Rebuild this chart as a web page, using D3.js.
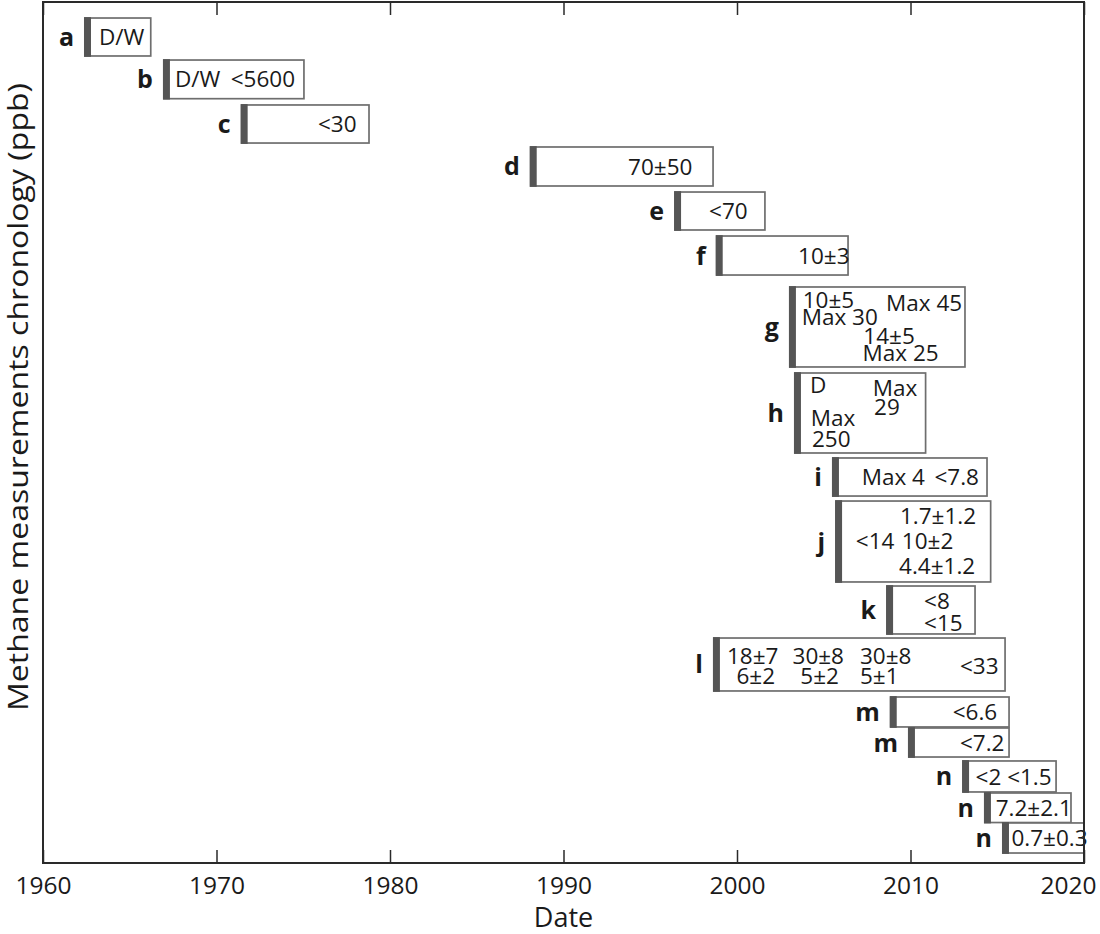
<!DOCTYPE html>
<html><head><meta charset="utf-8">
<script src="https://cdn.jsdelivr.net/npm/d3@7"></script>
<style>
html,body{margin:0;padding:0;background:#fff;}
svg{display:block;}
</style></head>
<body>
<svg id="chart" width="1100" height="934"></svg>
<script>
// ---- data ----
const rowLabels  = ["a","b","c","d","e","f","g","h","i","j","k","l","m","m","n","n","n"];
const startYears = [1962.42,1966.97,1971.45,1988.11,1996.43,1998.83,2003.05,2003.34,2005.53,2005.71,2008.65,1998.67,2008.86,2009.91,2013.03,2014.29,2015.33];
const endYears   = [1966.21,1975.04,1978.79,1998.62,2001.61,2006.40,2013.14,2010.87,2014.41,2014.62,2013.72,2015.45,2015.68,2015.68,2018.39,2019.25,2020.00];
// chronology position (0 = top, 100 = bottom of the axis)
const rowTop     = [1.86,6.74,11.96,16.84,22.07,27.18,33.10,43.09,52.96,57.96,67.83,73.87,80.72,84.32,88.15,91.87,95.35];
const rowBottom  = [6.27,11.23,16.38,21.37,26.48,31.71,42.39,52.38,57.38,67.36,73.40,80.02,84.20,87.69,91.75,95.30,98.84];
// measurement annotations: [row index, text, year where text starts, relative position in box]
const measurements = [
  [0,"D/W",1963.23,0.5],
  [1,"D/W",1967.61,0.5],[1,"<5600",1970.82,0.5],
  [2,"<30",1975.85,0.5],
  [3,"70±50",1993.72,0.5],
  [4,"<70",1998.39,0.5],
  [5,"10±3",2003.52,0.5],
  [6,"10±5",2003.79,0.16],[6,"Max 45",2008.59,0.20],[6,"Max 30",2003.73,0.37],[6,"14±5",2007.28,0.61],[6,"Max 25",2007.24,0.83],
  [7,"D",2004.21,0.15],[7,"Max",2007.82,0.18],[7,"29",2007.90,0.42],[7,"Max",2004.25,0.56],[7,"250",2004.32,0.82],
  [8,"Max 4",2007.19,0.5],[8,"<7.8",2011.38,0.5],
  [9,"1.7±1.2",2009.39,0.18],[9,"<14",2006.85,0.49],[9,"10±2",2009.50,0.49],[9,"4.4±1.2",2009.34,0.80],
  [10,"<8",2010.78,0.30],[10,"<15",2010.78,0.76],
  [11,"18±7",1999.42,0.33],[11,"30±8",2003.20,0.33],[11,"30±8",2007.09,0.33],
  [11,"6±2",1999.97,0.72],[11,"5±2",2003.65,0.72],[11,"5±1",2007.09,0.72],[11,"<33",2012.85,0.53],
  [12,"<6.6",2012.43,0.5],
  [13,"<7.2",2012.85,0.5],
  [14,"<2 <1.5",2013.75,0.5],
  [15,"7.2±2.1",2014.91,0.5],
  [16,"0.7±0.3",2015.82,0.5]
];
const xTicks = [1960,1970,1980,1990,2000,2010,2020];
const xTitle = "Date";
const yTitle = "Methane measurements chronology (ppb)";

// ---- drawing ----
const svg = d3.select("#chart");
const L = 43, R = 1084, T = 2, B = 863;
const x = d3.scaleLinear().domain([1960,2020]).range([L,R]);
const y = d3.scaleLinear().domain([0,100]).range([T,B]);
const FONT = "'Open Sans', 'Noto Sans', sans-serif";
const fs = 22.5;

const rows = rowLabels.map((lab,i)=>({lab, s:startYears[i], e:endYears[i], t:rowTop[i], b:rowBottom[i]}));

const g = svg.append("g");
// boxes
g.selectAll("rect.box").data(rows).join("rect")
  .attr("class","box")
  .attr("x", d=>x(d.s)).attr("y", d=>y(d.t))
  .attr("width", d=>x(d.e)-x(d.s)).attr("height", d=>y(d.b)-y(d.t))
  .attr("fill","#fff").attr("stroke","#6e6e6e").attr("stroke-width",1.7);
// thick left bars
g.selectAll("rect.bar").data(rows).join("rect")
  .attr("class","bar")
  .attr("x", d=>x(d.s)-1).attr("y", d=>y(d.t)-0.85)
  .attr("width", 7).attr("height", d=>y(d.b)-y(d.t)+1.7)
  .attr("fill","#555");
// row labels
g.selectAll("text.lab").data(rows).join("text")
  .attr("class","lab")
  .attr("x", d=>x(d.s)-11).attr("y", d=>(y(d.t)+y(d.b))/2)
  .attr("dy","0.36em")
  .attr("text-anchor","end")
  .attr("font-family",FONT).attr("font-weight","bold").attr("font-size",25)
  .attr("fill","#1a1a1a")
  .text(d=>d.lab);
// measurement text
g.selectAll("text.m").data(measurements).join("text")
  .attr("class","m")
  .attr("x", d=>x(d[2]))
  .attr("y", d=>{const r=rows[d[0]]; return y(r.t)+(y(r.b)-y(r.t))*d[3];})
  .attr("dy","0.36em")
  .attr("font-family",FONT).attr("font-size",fs)
  .attr("fill","#1a1a1a")
  .text(d=>d[1]);

// axes frame
svg.append("rect").attr("x",L).attr("y",T).attr("width",R-L).attr("height",B-T)
  .attr("fill","none").attr("stroke","#2a2a2a").attr("stroke-width",2);
const xb = d3.axisBottom(x).tickValues(xTicks).tickFormat(d3.format("d")).tickSize(-13).tickPadding(23);
const axB = svg.append("g").attr("transform",`translate(0,${B})`).call(xb);
axB.select(".domain").remove();
axB.selectAll("line").attr("stroke","#2a2a2a").attr("stroke-width",1.5);
axB.selectAll("text").attr("font-family",FONT).attr("font-size",24.5).attr("fill","#1a1a1a").attr("dy","0.34em");
// keep the last label inside the picture
axB.selectAll(".tick").filter(d=>d===xTicks[xTicks.length-1]).select("text")
  .attr("text-anchor","end").attr("x",1096-R);
const xt = d3.axisTop(x).tickValues(xTicks).tickFormat("").tickSize(-13);
const axT = svg.append("g").attr("transform",`translate(0,${T})`).call(xt);
axT.select(".domain").remove();
axT.selectAll("line").attr("stroke","#2a2a2a").attr("stroke-width",1.5);

svg.append("text").attr("x",(L+R)/2).attr("y",917).attr("dy","0.36em")
  .attr("text-anchor","middle").attr("font-family",FONT).attr("font-size",27).attr("fill","#1a1a1a")
  .text(xTitle);
svg.append("text").attr("transform",`translate(18,397) rotate(-90)`).attr("dy","0.36em")
  .attr("text-anchor","middle").attr("font-family",FONT).attr("font-size",27).attr("fill","#1a1a1a")
  .attr("textLength",628).attr("lengthAdjust","spacingAndGlyphs")
  .text(yTitle);
</script>
</body></html>
